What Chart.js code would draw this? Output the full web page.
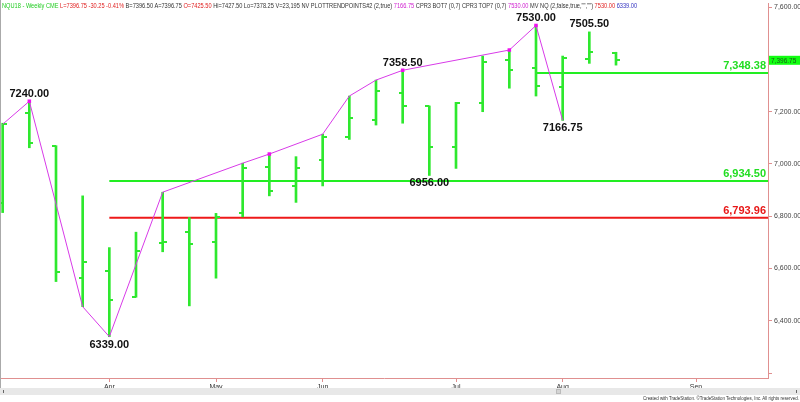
<!DOCTYPE html>
<html lang="en">
<head>
    <meta charset="UTF-8">
    <title>NQU18 - Weekly CME</title>
    <script src="https://cdn.jsdelivr.net/npm/chart.js"></script>
    <style>
        body {
            margin: 0;
            background: #fff;
            font-family: 'Liberation Sans', Arial, sans-serif;
        }
        #wrap {
            position: relative;
            width: 800px;
            height: 402px;
            overflow: hidden;
        }
        #header {
            position: absolute;
            left: 2px;
            top: 2px;
            font-size: 7px;
            line-height: 8px;
            white-space: nowrap;
            transform-origin: 0 0;
            color: #333;
        }
        #scroll {
            position: absolute;
            left: 0;
            top: 388px;
            width: 800px;
            height: 7px;
            background: #e8e8e8;
        }
        #thumb {
            position: absolute;
            left: 556px;
            top: 1px;
            width: 5px;
            height: 5px;
            background: #d4d4d4;
            border: 1px solid #bbb;
            box-sizing: border-box;
        }
        .arrow {
            position: absolute;
            top: 2px;
            width: 1px;
            height: 3px;
            background: #666;
        }
        #footer {
            position: absolute;
            right: 1px;
            top: 395px;
            font-size: 6px;
            line-height: 6px;
            white-space: nowrap;
            transform-origin: 100% 0;
            color: #333;
        }
        #edge {
            position: absolute;
            left: 0;
            top: 0;
            width: 1px;
            height: 388px;
            background: #aaa;
        }
        .g { color: #22cc22; }
        .r { color: #e02020; }
        .m { color: #d020d0; }
        .b { color: #3030c0; }
    </style>
</head>
<body>
<div id="wrap">
    <canvas id="chart" width="800" height="402"></canvas>
    <div id="edge"></div>
    <div id="header"><span class="g">NQU18 - Weekly CME</span> <span class="r">L=7396.75 -30.25 -0.41%</span> B=7396.50 A=7396.75 <span class="r">O=7425.50</span> Hi=7427.50 Lo=7378.25 V=23,195 NV PLOTTRENDPOINTS#2 (2,true) <span class="m">7166.75</span> CPR3 BOT7 (0,7) CPR3 TOP7 (0,7) <span class="m">7530.00</span> MV NQ (2,false,true,"","") <span class="r">7530.00</span> <span class="b">6339.00</span></div>
    <div id="scroll">
        <div class="arrow" style="left:3px"></div>
        <div id="thumb"></div>
        <div class="arrow" style="left:796px"></div>
    </div>
    <div id="footer">Created with TradeStation. ©TradeStation Technologies, Inc. All rights reserved.</div>
</div>
<script>
    // weekly bars, index 0 = week of Mar 5 2018
    const weekLabels = ['Mar 5','Mar 12','Mar 19','Mar 26','Apr 2','Apr 9','Apr 16','Apr 23','Apr 30','May 7','May 14','May 21',
                        'May 28','Jun 4','Jun 11','Jun 18','Jun 25','Jul 2','Jul 9','Jul 16','Jul 23','Jul 30','Aug 6','Aug 13'];
    const opens  = [6852, 7194, 7068, 6563, 6592, 6492, 6697, 6741, 6700, 6814, 6990, 6917,
                    7015, 7105, 7168, 7273, 7220, 7066, 7232, 7398, 7366, 7293, 7402, 7425.5];
    const highs  = [7156, 7240, 7070, 6878, 6680, 6739, 6892, 6795, 6811, 7003, 7038, 7028,
                    7114, 7260, 7321, 7358.5, 7222, 7236, 7413, 7436, 7530, 7413, 7505.5, 7427.5];
    const lows   = [6814, 7062, 6550, 6454, 6339, 6490, 6664, 6457, 6563, 6798, 6878, 6853,
                    6916, 7094, 7149, 7156, 6956, 6983, 7200, 7290, 7260, 7166.75, 7385, 7378.25];
    const closes = [7152, 7079, 6586, 6626, 6480, 6666, 6700, 6694, 6798, 6983, 6898, 6983,
                    7104, 7175, 7280, 7222, 7066, 7232, 7391, 7360, 7298, 7404, 7427, 7396.75];

    // swing line (trend points)
    const trendIdx = [0, 1, 3, 4, 6, 9, 10, 12, 13, 14, 15, 19, 20, 21];
    const trendVal = [7152, 7240, 6454, 6339, 6892, 7003, 7038, 7114, 7260, 7321, 7358.5, 7436, 7530, 7166.75];
    const trendDots = [1, 10, 15, 19, 20];

    // labelled pivots
    const pivotIdx  = [1, 4, 15, 16, 20, 21, 22];
    const pivotVal  = [7240, 6339, 7358.5, 6956, 7530, 7166.75, 7505.5];
    const pivotSide = ['up', 'down', 'up', 'down', 'up', 'down', 'up'];

    // horizontal levels
    const levelVal   = [7348.38, 6934.50, 6793.96];
    const levelStart = [20, 4, 4];
    const levelColor = ['#22ee22', '#22ee22', '#ee1a1a'];

    const priceTicks  = [6200, 6400, 6600, 6800, 7000, 7200, 7400, 7600];
    const monthTicks  = [4, 8, 12, 17, 21, 26];
    const monthLabels = ['Apr', 'May', 'Jun', 'Jul', 'Aug', 'Sep'];
    const lastPrice = 7396.75;

    const X_MIN = -0.1, X_MAX = 28.7;
    const barColor = '#2ee82e';
    const axisColor = '#e09090';

    function fmt(v) {
        return v.toLocaleString('en-US', { minimumFractionDigits: 2, maximumFractionDigits: 2 });
    }

    function tickCanvas(side) {
        const c = document.createElement('canvas');
        c.width = 8;
        c.height = 2;
        const g = c.getContext('2d');
        g.fillStyle = barColor;
        g.fillRect(side === 'left' ? 0 : 4, 0, 4, 2);
        return c;
    }

    const labelPlugin = {
        id: 'labels',
        afterDatasetsDraw(chart) {
            const { ctx, chartArea } = chart;
            const x = chart.scales.x, y = chart.scales.y;
            ctx.save();
            ctx.font = 'bold 11px "Liberation Sans", Arial, sans-serif';
            ctx.textBaseline = 'alphabetic';
            ctx.textAlign = 'center';
            ctx.fillStyle = '#111';
            pivotIdx.forEach((idx, k) => {
                const px = x.getPixelForValue(idx);
                const py = y.getPixelForValue(pivotVal[k]);
                const t = pivotVal[k].toFixed(2);
                if (pivotSide[k] === 'up') ctx.fillText(t, px, py - 4.5);
                else ctx.fillText(t, px, py + 11);
            });
            ctx.textAlign = 'right';
            levelVal.forEach((v, k) => {
                ctx.fillStyle = levelColor[k] === '#22ee22' ? '#22dd22' : '#e81818';
                ctx.fillText(fmt(v), chartArea.right - 2, y.getPixelForValue(v) - 4.3);
            });
            ctx.restore();
        },
        afterDraw(chart) {
            const { ctx, chartArea } = chart;
            const py = chart.scales.y.getPixelForValue(lastPrice);
            ctx.save();
            ctx.fillStyle = '#11ff11';
            ctx.fillRect(chartArea.right + 1, py - 4.5, 800 - chartArea.right, 9);
            ctx.fillStyle = '#1a5a1a';
            ctx.font = '6.5px "Liberation Sans", Arial, sans-serif';
            ctx.textBaseline = 'middle';
            ctx.textAlign = 'left';
            ctx.fillText(fmt(lastPrice), chartArea.right + 3, py + 0.5);
            ctx.restore();
        }
    };

    const datasets = [];
    datasets.push({
        type: 'line',
        data: trendIdx.map((i, k) => ({ x: i, y: trendVal[k] })),
        borderColor: '#d83ae8',
        borderWidth: 1,
        pointStyle: 'rect',
        pointRadius: trendIdx.map(i => trendDots.includes(i) ? 2.5 : 0),
        pointBackgroundColor: '#ee11ee',
        pointBorderWidth: 0,
        order: 0
    });
    datasets.push({
        type: 'bar',
        data: weekLabels.map((w, i) => ({ x: i, y: [lows[i], highs[i]] })),
        backgroundColor: barColor,
        barThickness: 2,
        order: 2
    });
    datasets.push({
        type: 'scatter',
        data: weekLabels.map((w, i) => ({ x: i, y: opens[i] })),
        pointStyle: tickCanvas('left'),
        order: 2
    });
    datasets.push({
        type: 'scatter',
        data: weekLabels.map((w, i) => ({ x: i, y: closes[i] })),
        pointStyle: tickCanvas('right'),
        order: 2
    });
    levelVal.forEach((v, k) => {
        datasets.push({
            type: 'line',
            data: [{ x: levelStart[k], y: v }, { x: X_MAX, y: v }],
            borderColor: levelColor[k],
            borderWidth: 2,
            pointRadius: 0,
            order: 3
        });
    });

    new Chart(document.getElementById('chart'), {
        type: 'bar',
        data: { datasets: datasets },
        plugins: [labelPlugin],
        options: {
            responsive: false,
            animation: false,
            layout: { autoPadding: false, padding: { top: 3, left: 0, right: 0, bottom: 0 } },
            plugins: { legend: { display: false }, tooltip: { enabled: false } },
            scales: {
                x: {
                    type: 'linear',
                    min: X_MIN,
                    max: X_MAX,
                    offset: false,
                    afterBuildTicks: s => { s.ticks = monthTicks.map(v => ({ value: v })); },
                    afterFit: s => { s.height = 24; s.paddingLeft = 0; s.paddingRight = 0; },
                    ticks: {
                        autoSkip: false,
                        maxRotation: 0,
                        color: '#333',
                        padding: 1,
                        font: { size: 7, family: '"Liberation Sans", Arial' },
                        callback: (v, i) => monthLabels[i]
                    },
                    grid: { drawOnChartArea: false, offset: false, tickLength: 4, color: axisColor },
                    border: { color: axisColor, width: 1 }
                },
                y: {
                    position: 'right',
                    min: 6181,
                    max: 7616,
                    afterBuildTicks: s => { s.ticks = priceTicks.map(v => ({ value: v })); },
                    afterFit: s => { s.width = 32; s.paddingTop = 0; s.paddingBottom = 0; },
                    ticks: {
                        autoSkip: false,
                        color: '#444',
                        padding: 2,
                        font: { size: 7, family: '"Liberation Sans", Arial' },
                        callback: v => v < 6300 ? '' : fmt(v)
                    },
                    grid: { drawOnChartArea: false, tickLength: 4, color: axisColor },
                    border: { color: axisColor, width: 1 }
                }
            }
        }
    });

    // squeeze the narrow TradeStation-style text to its original width
    function fitWidth(id, w) {
        const el = document.getElementById(id);
        el.style.transform = 'scaleX(' + (w / el.scrollWidth) + ')';
    }
    fitWidth('header', 635);
    fitWidth('footer', 156);
</script>
</body>
</html>
